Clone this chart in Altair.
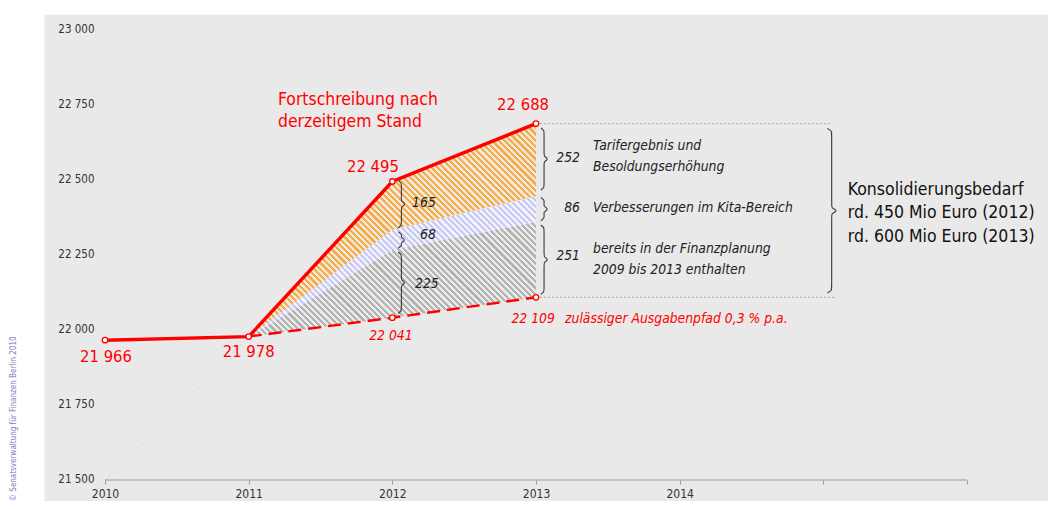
import math
import altair as alt
import pandas as pd

# ---------------- data ----------------
years = [2010, 2011, 2012, 2013]
fortschreibung = [21966, 21978, 22495, 22688]
fort_labels = ["21 966", "21 978", "22 495", "22 688"]

pfad_years = [2011, 2012, 2013]
pfad = [21978, 22041, 22109]
pfad_labels = ["", "22 041", "22 109"]

finanzplanung = [0, 225, 251]
kita = [0, 68, 86]
tarif = [0, 165, 252]

axis_years = [2010, 2011, 2012, 2013, 2014, 2015, 2016]
y_ticks = [21500, 21750, 22000, 22250, 22500, 22750, 23000]

desc_2013 = [["Tarifergebnis und", "Besoldungserhöhung"],
             ["Verbesserungen im Kita-Bereich"],
             ["bereits in der Finanzplanung", "2009 bis 2013 enthalten"]]
title_lines = ["Fortschreibung nach", "derzeitigem Stand"]
konsol_lines = ["Konsolidierungsbedarf", "rd. 450 Mio Euro (2012)", "rd. 600 Mio Euro (2013)"]
pfad_note = "zulässiger Ausgabenpfad 0,3 % p.a."
copyright_note = "© Senatsverwaltung für Finanzen Berlin 2010"

# ---------------- layout constants ----------------
W, H = 1004, 487
X0, X1 = 2009.5754, 2016.5636
Y0, Y1 = 21430.0, 23053.33
PPY = W / (X1 - X0)
PPU = H / (Y1 - Y0)
FONT = "DejaVu Sans Condensed, Liberation Sans Narrow, Arial Narrow, sans-serif"
RED = "#ff0000"

xs = alt.Scale(domain=[X0, X1], nice=False, zero=False)
ys = alt.Scale(domain=[Y0, Y1], nice=False, zero=False)

# stacked bands
g_top = [p + f for p, f in zip(pfad, finanzplanung)]
k_top = [g + k for g, k in zip(g_top, kita)]
o_top = fortschreibung[1:]

bands = pd.DataFrame({
    "x": pfad_years * 3,
    "lo": pfad + g_top + k_top,
    "hi": g_top + k_top + o_top,
    "band": ["a"] * 3 + ["b"] * 3 + ["c"] * 3,
})


def hatch(lo, hi, stripe, bg, period=4.4, frac=0.5):
    w = (max(pfad_years) - min(pfad_years)) * PPY
    h = (max(hi) - min(lo)) * PPU
    k = (w + h) / (w * w + h * h)
    n = int(round((w + h) / math.sqrt(2) / period))
    stops = []
    for i in range(n):
        a = i / n
        b = (i + frac) / n
        c = min(1.0, (i + 1) / n)
        stops += [alt.GradientStop(offset=a, color=stripe),
                  alt.GradientStop(offset=b, color=stripe),
                  alt.GradientStop(offset=b, color=bg),
                  alt.GradientStop(offset=c, color=bg)]
    return alt.LinearGradient(gradient="linear", stops=stops,
                              x1=0, y1=1, x2=k * w, y2=1 - k * h)


def band_layer(name, lo, hi, stripe, bg):
    d = bands[bands.band == name]
    return alt.Chart(d).mark_area(color=hatch(lo, hi, stripe, bg)).encode(
        x=alt.X("x:Q", scale=xs), y=alt.Y("lo:Q", scale=ys), y2="hi:Q")


gray_band = band_layer("a", pfad, g_top, "#b3b3b3", "#ebebeb")
lav_band = band_layer("b", g_top, k_top, "#c9c9f5", "#f3f3fb")
org_band = band_layer("c", k_top, o_top, "#f7ad4a", "#efe9e0")

# axis (custom line placed at 21 500)
base = alt.Chart(pd.DataFrame({"x": [axis_years[0]], "x2": [axis_years[-1]], "y": [y_ticks[0]]}))
axis_line = base.mark_rule(color="#9a9a9a", strokeWidth=1.2).encode(
    x=alt.X("x:Q", scale=xs,
            axis=alt.Axis(values=axis_years, orient="bottom", offset=-21, domain=False,
                          grid=False, tickSize=4, tickColor="#9a9a9a", labelPadding=4,
                          labelFont=FONT, labelFontSize=12, labelColor="#333",
                          labelExpr="datum.value <= 2014 ? datum.value : ''", title=None)),
    x2="x2:Q",
    y=alt.Y("y:Q", scale=ys,
            axis=alt.Axis(values=y_ticks, orient="left", offset=-52, domain=False, ticks=False,
                          tickSize=0, grid=False, labelPadding=2, labelFont=FONT,
                          labelFontSize=11.5, labelColor="#333",
                          labelExpr="replace(format(datum.value, ','), ',', ' ')", title=None)))

# faint dotted trend line
trend = alt.Chart(pd.DataFrame({"x": [years[0], years[1]], "y": [y_ticks[0], fortschreibung[1]]})).mark_line(
    color="#d4d4d4", strokeDash=[2, 3], strokeWidth=1).encode(
    x=alt.X("x:Q", scale=xs), y=alt.Y("y:Q", scale=ys))

# horizontal dotted guide lines
guides = alt.Chart(pd.DataFrame({"x": [2013, 2013], "x2": [2015.06, 2015.08],
                                 "y": [fortschreibung[-1], pfad[-1]]})).mark_rule(
    color="#a8a8a8", strokeDash=[2, 2], strokeWidth=1).encode(
    x=alt.X("x:Q", scale=xs), x2="x2:Q", y=alt.Y("y:Q", scale=ys))

# lines
main_df = pd.DataFrame({"x": years, "y": fortschreibung, "lab": fort_labels})
pfad_df = pd.DataFrame({"x": pfad_years, "y": pfad, "lab": pfad_labels})

dashed = alt.Chart(pfad_df).mark_line(color=RED, strokeWidth=2.4, strokeDash=[13, 7]).encode(
    x=alt.X("x:Q", scale=xs), y=alt.Y("y:Q", scale=ys))
solid = alt.Chart(main_df).mark_line(color=RED, strokeWidth=3.4).encode(
    x=alt.X("x:Q", scale=xs), y=alt.Y("y:Q", scale=ys))
pts_df = pd.concat([main_df, pfad_df.iloc[1:]])
points = alt.Chart(pts_df).mark_point(shape="circle", filled=True, fill="white", stroke=RED,
                                      strokeWidth=1.3, size=30, opacity=1).encode(
    x=alt.X("x:Q", scale=xs), y=alt.Y("y:Q", scale=ys))


# braces
def brace(bid, xv, lo, hi, wl=0.022, wr=0.032):
    span = hi - lo
    d = min(10.0, span / 6.0)
    mid = (lo + hi) / 2
    pts = [(xv - wl, hi), (xv, hi - d), (xv, hi - d), (xv, mid + d), (xv, mid + d), (xv + wr, mid),
           (xv, mid - d), (xv, mid - d), (xv, lo + d), (xv, lo + d), (xv - wl, lo)]
    return [{"b": bid, "o": i, "x": px, "y": py} for i, (px, py) in enumerate(pts)]


inset = 6
brace_rows = []
brace_rows += brace("o12", 2012.063, k_top[1] + inset, o_top[1] + 4)
brace_rows += brace("k12", 2012.063, g_top[1] + inset, k_top[1] - inset)
brace_rows += brace("g12", 2012.063, pfad[1] + 14, g_top[1] - inset)
brace_rows += brace("o13", 2013.056, k_top[2] + 20, o_top[2] - 14)
brace_rows += brace("k13", 2013.056, g_top[2] + 4, k_top[2] - 4)
brace_rows += brace("g13", 2013.056, pfad[2] + 10, g_top[2] - 10)
brace_rows += brace("big", 2015.058, pfad[2] + 14, fortschreibung[-1] - 16, wl=0.03, wr=0.045)
braces = alt.Chart(pd.DataFrame(brace_rows)).mark_line(
    color="#3a3a3a", strokeWidth=1.1, interpolate="basis").encode(
    x=alt.X("x:Q", scale=xs), y=alt.Y("y:Q", scale=ys), detail="b:N", order="o:Q")


def text_layer(rows, **kw):
    return alt.Chart(pd.DataFrame(rows, columns=["x", "y", "t"])).mark_text(
        font=FONT, baseline="middle", **kw).encode(
        x=alt.X("x:Q", scale=xs), y=alt.Y("y:Q", scale=ys), text="t:N")


big_red = text_layer([(2010.007, 21910, fort_labels[0]), (2011.0, 21927, fort_labels[1]),
                      (2011.865, 22543, fort_labels[2]), (2012.91, 22750, fort_labels[3])],
                     color=RED, fontSize=16.5, align="center")
title_red = text_layer([(2011.204, 22767, title_lines[0]), (2011.204, 22693, title_lines[1])],
                       color=RED, fontSize=17.4, align="left")
small_red = text_layer([(2011.99, 21980, pfad_labels[1]), (2012.98, 22037, pfad_labels[2])],
                       color=RED, fontSize=13.8, fontStyle="italic", align="center")
note_red = text_layer([(2013.202, 22037, pfad_note)], color=RED, fontSize=13.8,
                      fontStyle="italic", align="left")
nums12 = text_layer([(2012.22, 22423, str(tarif[1])), (2012.248, 22317, str(kita[1])),
                     (2012.24, 22153, str(finanzplanung[1]))],
                    color="#222", fontSize=13.8, fontStyle="italic", align="center")
nums13 = text_layer([(2013.306, 22573, str(tarif[2])), (2013.306, 22407, str(kita[2])),
                     (2013.306, 22247, str(finanzplanung[2]))],
                    color="#222", fontSize=13.8, fontStyle="italic", align="right")
desc = text_layer([(2013.397, 22613, desc_2013[0][0]), (2013.397, 22543, desc_2013[0][1]),
                   (2013.397, 22407, desc_2013[1][0]),
                   (2013.397, 22270, desc_2013[2][0]), (2013.397, 22200, desc_2013[2][1])],
                  color="#222", fontSize=13.8, fontStyle="italic", align="left")
konsol = text_layer([(2015.17, 22467, konsol_lines[0]), (2015.17, 22390, konsol_lines[1]),
                     (2015.17, 22310, konsol_lines[2])],
                    color="#111", fontSize=17.5, align="left")
copyright_t = alt.Chart(pd.DataFrame({"y": [21704], "t": [copyright_note]})).mark_text(
    font=FONT, fontSize=8, color="#7b7bc0", angle=270, align="center", baseline="middle").encode(
    x=alt.value(-30), y=alt.Y("y:Q", scale=ys), text="t:N")

chart = alt.layer(
    gray_band, lav_band, org_band, trend, guides, axis_line, dashed, solid, points, braces,
    big_red, title_red, small_red, note_red, nums12, nums13, desc, konsol, copyright_t
).properties(
    width=W, height=H, autosize="none",
    padding={"left": 36, "top": 6, "right": 0, "bottom": 0},
    background="white",
).configure_view(fill="#e9e9e9", stroke="transparent")

chart.save("out.html", embed_options={"renderer": "svg", "actions": False})
